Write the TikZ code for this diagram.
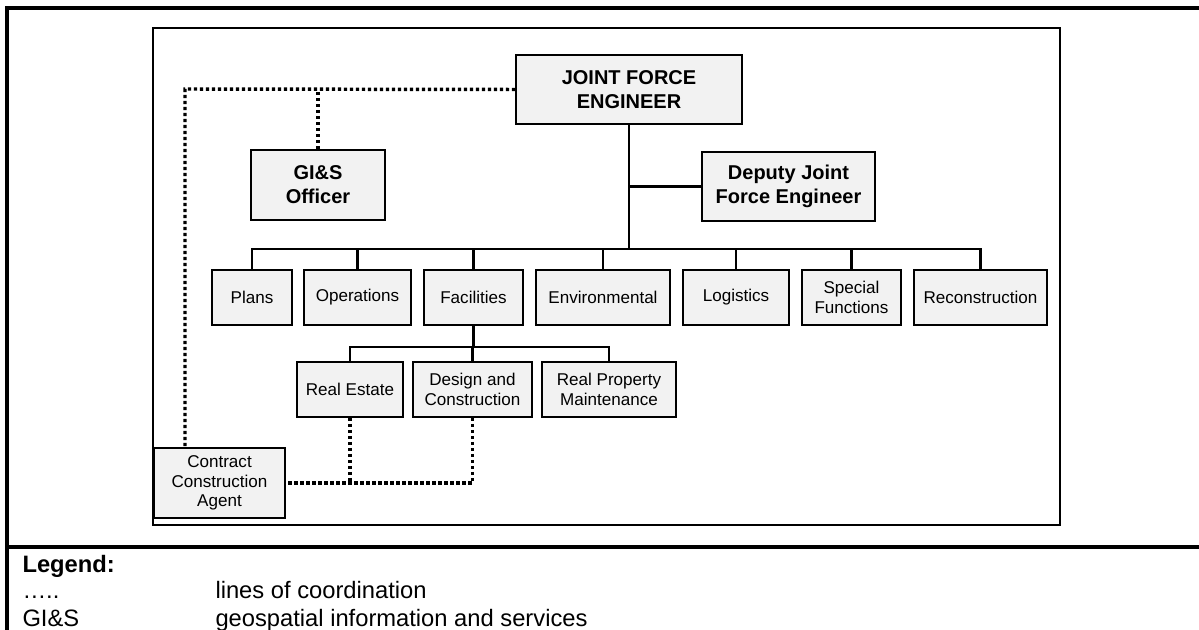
\documentclass[tikz,border=0pt]{standalone}
\usepackage{fontspec}
\setmainfont{Liberation Sans}
\usetikzlibrary{positioning}

\tikzset{every picture/.style={line width=0.75pt}}
\tikzset{
  orgbox/.style={draw, line width=1.5pt, fill={rgb,255:red,242;green,242;blue,242}, inner sep=0pt, align=center},
  bigbox/.style={orgbox, font=\bfseries\fontsize{15}{18}\selectfont},
  smallbox/.style={orgbox, minimum height=41.25pt, font=\fontsize{12.8}{14.4}\selectfont},
  tree/.style={line width=1.7pt},
  coordline/.style={line width=2.6pt, dash pattern={on 2.3pt off 2.2pt}},
  legendtext/.style={anchor=base west, inner sep=0pt, font=\fontsize{17.8}{21}\selectfont}
}

\begin{document}
\begin{tikzpicture}[x=0.75pt,y=0.75pt,yscale=-1,xscale=1]
\useasboundingbox (0,0) rectangle (1199,630);

%Outer frame and legend divider
\draw [line width=2.6pt] (1199,8) -- (7,8) -- (7,630) ;
\draw [line width=2.6pt] (7,547) -- (1199,547) ;
%Inner frame
\draw [line width=2pt] (153,28) rectangle (1060,525) ;

%Top level
\node [bigbox, minimum width=169.5pt, minimum height=51.75pt] (jfe) at (629,89.5) {JOINT FORCE\\ENGINEER};
\node [bigbox, minimum width=100.5pt, minimum height=52.5pt] (gis) at (318,185) {GI\&S\\Officer};
\node [bigbox, minimum width=129.75pt, minimum height=51.75pt] (deputy) at (788.5,186.5) {Deputy Joint\\Force Engineer};

%Staff sections
\node [smallbox, minimum width=60pt] (plans) at (252,297.5) {Plans};
\node [smallbox, minimum width=80.25pt] (ops) at (357.5,297.5) {Operations};
\node [smallbox, minimum width=74.25pt] (fac) at (473.5,297.5) {Facilities};
\node [smallbox, minimum width=100.5pt] (env) at (603,297.5) {Environmental};
\node [smallbox, minimum width=79.5pt] (log) at (736,297.5) {Logistics};
\node [smallbox, minimum width=74.25pt] (spec) at (851.5,297.5) {Special\\Functions};
\node [smallbox, minimum width=99.75pt] (recon) at (980.5,297.5) {Reconstruction};

%Facilities branches
\node [smallbox, minimum width=79.5pt] (realest) at (350,389.5) {Real Estate};
\node [smallbox, minimum width=89.25pt] (design) at (472.5,389.5) {Design and\\Construction};
\node [smallbox, minimum width=100.5pt] (realprop) at (609,389.5) {Real Property\\Maintenance};

\node [smallbox, minimum width=98.25pt, minimum height=52.5pt] (contract) at (219.5,483) {Contract\\Construction\\Agent};

%Command lines
\coordinate (bus) at (629,249);
\coordinate (subbus) at (473.5,347);
\draw [tree] (jfe.south) -- (bus) ;
\draw [tree] (jfe.south |- deputy.west) -- (deputy.west) ;
\draw [tree] (plans.north) |- (bus) -| (recon.north) ;
\foreach \n in {ops,fac,env,log,spec}
  \draw [tree] (\n.north) -- (\n.north |- bus) ;
\draw [tree] (fac.south) -- (subbus) ;
\draw [tree] (realest.north) |- (subbus) -| (realprop.north) ;
\draw [tree] (design.north) -- (design.north |- subbus) ;

%Coordination lines
\coordinate (corner) at (185,89);
\draw [coordline] (jfe.west) -- (corner) -- (corner |- contract.north) ;
\draw [coordline] (gis.north) -- (gis.north |- jfe.west) ;
\draw [coordline] (design.south) |- (contract.east) ;
\draw [coordline] (realest.south) -- (realest.south |- contract.east) ;

%Legend
\node [legendtext, font=\bfseries\fontsize{17.8}{21}\selectfont] (legend) at (22,572) {Legend:};
\node [legendtext] (dotskey) at (22,598) {…..};
\node [legendtext] (dotsval) at (215,598) {lines of coordination};
\node [legendtext] (giskey) at (22,626) {GI\&S};
\node [legendtext] (gisval) at (215,626) {geospatial information and services};

\end{tikzpicture}
\end{document}
